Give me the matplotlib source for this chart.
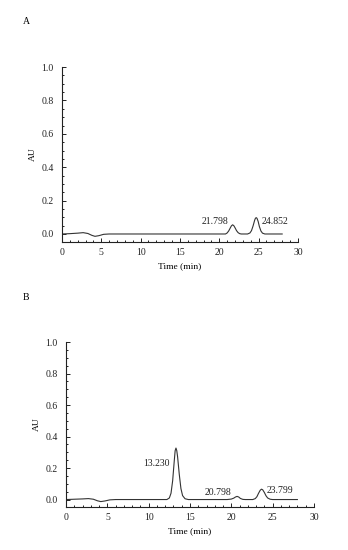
import matplotlib
matplotlib.use("Agg")
import matplotlib.pyplot as plt
import matplotlib.ticker as ticker

plt.rcParams['font.family'] = ['Liberation Serif', 'DejaVu Serif']
plt.rcParams['font.size'] = 7

# хроматограмма A
t_a = [0, 1.0, 2.0, 2.7, 3.3, 3.8, 4.2, 4.7, 5.3, 6.0, 20.8,
       21.0, 21.2, 21.4, 21.55, 21.7, 21.85, 22.0, 22.2, 22.4, 22.6, 22.8,
       23.6, 23.9, 24.1, 24.3, 24.5, 24.6, 24.7, 24.8, 24.95, 25.1, 25.3,
       25.5, 25.8, 28.0]
au_a = [0, 0.002, 0.005, 0.008, 0.003, -0.008, -0.014, -0.010, -0.002, 0, 0,
        0.006, 0.018, 0.036, 0.049, 0.055, 0.050, 0.038, 0.020, 0.008, 0.002, 0,
        0, 0.006, 0.020, 0.048, 0.082, 0.094, 0.098, 0.094, 0.075, 0.045, 0.018,
        0.005, 0, 0]
peaks_a = ["21.798", "24.852"]
lab_a_x = [21.1, 25.4]
lab_a_y = [0.074, 0.074]

# хроматограмма B
t_b = [0, 1.0, 2.0, 2.7, 3.3, 3.8, 4.2, 4.7, 5.3, 6.0, 12.2,
       12.5, 12.7, 12.9, 13.1, 13.2, 13.3, 13.4, 13.5, 13.7, 13.9, 14.1,
       14.4, 14.8, 19.5, 20.0, 20.3, 20.5, 20.7, 20.9, 21.1, 21.4, 21.7,
       22.6, 22.9, 23.1, 23.3, 23.5, 23.65, 23.8, 24.0, 24.2, 24.4, 24.7,
       25.0, 28.0]
au_b = [0, 0.002, 0.004, 0.006, 0.002, -0.008, -0.013, -0.009, -0.002, 0, 0,
        0.010, 0.040, 0.120, 0.250, 0.310, 0.327, 0.310, 0.270, 0.160, 0.070, 0.025,
        0.005, 0, 0, 0.003, 0.009, 0.016, 0.020, 0.016, 0.007, 0.001, 0,
        0, 0.006, 0.018, 0.040, 0.059, 0.066, 0.062, 0.045, 0.024, 0.010, 0.002,
        0, 0]
peaks_b = ["13.230", "20.798", "23.799"]
lab_b_x = [12.6, 20.0, 24.3]
lab_b_y = [0.227, 0.045, 0.060]

fig = plt.figure(figsize=(3.48, 5.5), dpi=100)

def panel(rect, t, au, names, lx, ly, ha_list, letter, letter_y):
    ax = fig.add_axes(rect)
    ax.plot(t, au, color='#333333', linewidth=0.8)
    for name, x, y, ha in zip(names, lx, ly, ha_list):
        ax.text(x, y, name, ha=ha, va='center', fontsize=7, color='#222222')
    ax.set_xlim(0, 30)
    ax.set_ylim(-0.048, 1.0)
    ax.spines['top'].set_visible(False)
    ax.spines['right'].set_visible(False)
    for s in ['left', 'bottom']:
        ax.spines[s].set_linewidth(0.8)
        ax.spines[s].set_color('#222222')
    ax.xaxis.set_major_locator(ticker.MultipleLocator(5))
    ax.xaxis.set_minor_locator(ticker.MultipleLocator(1))
    ax.yaxis.set_major_locator(ticker.MultipleLocator(0.2))
    ax.yaxis.set_minor_locator(ticker.MultipleLocator(0.05))
    ax.yaxis.set_major_formatter(ticker.FormatStrFormatter('%.1f'))
    ax.tick_params(which='both', direction='in', width=0.7, colors='#222222',
                   labelsize=7)
    ax.tick_params(axis='y', pad=6)
    ax.tick_params(axis='x', pad=4)
    ax.tick_params(which='major', length=3)
    ax.tick_params(which='minor', length=1.6)
    ax.set_xlabel("Time (min)", fontsize=6.8, labelpad=4)
    ax.set_ylabel("AU", fontsize=6.8, labelpad=3)
    fig.text(0.075, letter_y, letter, fontsize=7, ha='center', va='center')
    return ax

panel([0.178, 0.56, 0.678, 0.318], t_a, au_a, peaks_a, lab_a_x, lab_a_y,
      ['right', 'left'], "A", 1 - 22 / 550)
panel([0.19, 0.078, 0.712, 0.30], t_b, au_b, peaks_b, lab_b_x, lab_b_y,
      ['right', 'right', 'left'], "B", 1 - 297 / 550)

fig.savefig("out.png", dpi=100)
